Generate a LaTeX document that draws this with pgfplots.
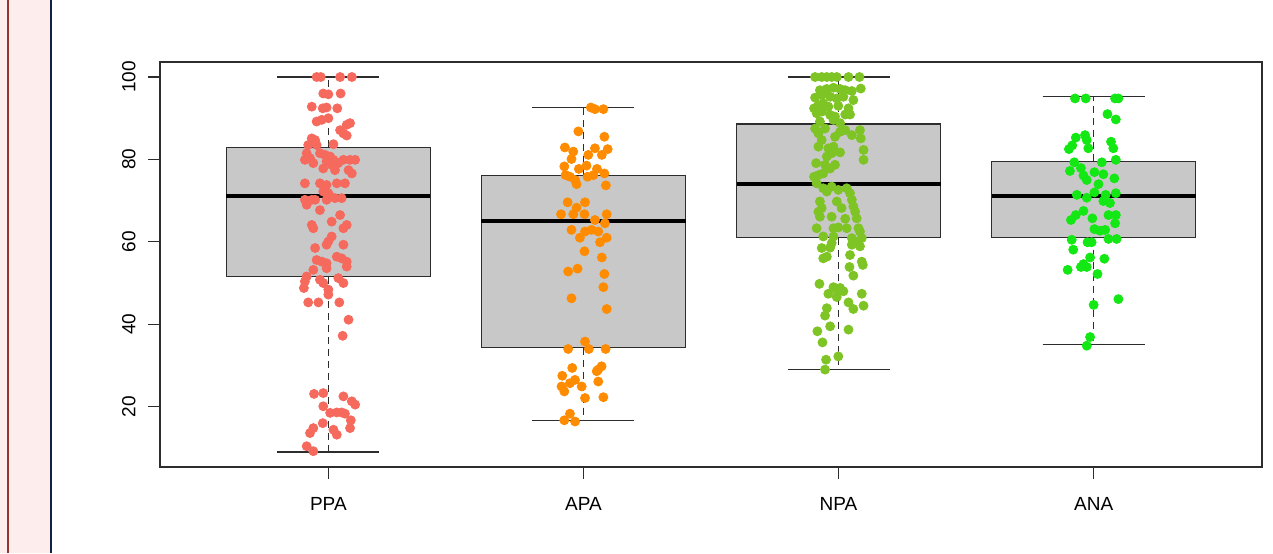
\documentclass[border=0pt]{standalone}
\usepackage{pgfplots}
\pgfplotsset{compat=1.18}
\usepackage{fontspec}
\setmainfont{Liberation Sans}
\definecolor{ppa}{RGB}{246,106,94}
\definecolor{apa}{RGB}{255,140,0}
\definecolor{npa}{RGB}{126,196,36}
\definecolor{ana}{RGB}{20,232,20}
\definecolor{boxgray}{RGB}{200,200,200}
\definecolor{linegray}{RGB}{45,45,45}
\definecolor{panelpink}{RGB}{253,237,237}
\definecolor{panelred}{RGB}{150,50,50}
\definecolor{panelnavy}{RGB}{20,32,64}
\pgfplotsset{
  boxst/.style={draw=linegray, fill=boxgray, line width=0.55pt},
  medst/.style={draw=black, line width=2pt},
  whisk/.style={draw=linegray, line width=0.55pt, dash pattern=on 3.5pt off 2.5pt},
  capst/.style={draw=linegray, line width=0.55pt},
  dots/.style={only marks, mark=*, mark size=2.25pt, color=#1, mark options={draw=#1, fill=#1, solid}},
}
\begin{document}
\begin{tikzpicture}
\path[use as bounding box] (0pt,0pt) rectangle (636.5pt,276.5pt);
\fill[white] (0pt,0pt) rectangle (636.5pt,276.5pt);
\fill[panelpink] (0pt,0pt) rectangle (25.5pt,276.5pt);
\fill[panelred] (3.4pt,0pt) rectangle (4.6pt,276.5pt);
\fill[panelnavy] (24.8pt,0pt) rectangle (26.2pt,276.5pt);
\begin{axis}[
  at={(80pt,43pt)}, anchor=south west,
  width=551pt, height=202.5pt, scale only axis,
  xmin=0.34, xmax=4.66, ymin=5.36, ymax=103.64,
  xtick={1,2,3,4}, xticklabels={PPA,APA,NPA,ANA},
  ytick={20,40,60,80,100},
  tick pos=left, tick align=outside,
  major tick length=6pt,
  tick style={linegray, line width=0.55pt},
  axis line style={linegray, line width=0.6pt},
  tick label style={font=\fontsize{9.5}{11}\selectfont},
  /pgf/number format/assume math mode=true,
  yticklabel style={rotate=90, anchor=south, inner sep=6pt},
  xticklabel style={anchor=north, yshift=-5.5pt},
  clip=false,
]
% PPA box
\addplot[boxst] coordinates {(0.6,51.5)(1.4,51.5)(1.4,83.0)(0.6,83.0)} -- cycle;
\addplot[whisk] coordinates {(1,83.0)(1,100)};
\addplot[whisk] coordinates {(1,51.5)(1,9)};
\addplot[capst] coordinates {(0.8,100)(1.2,100)};
\addplot[capst] coordinates {(0.8,9)(1.2,9)};
\addplot[medst] coordinates {(0.6,71.2)(1.4,71.2)};
% APA box
\addplot[boxst] coordinates {(1.6,34.3)(2.4,34.3)(2.4,76.2)(1.6,76.2)} -- cycle;
\addplot[whisk] coordinates {(2,76.2)(2,92.7)};
\addplot[whisk] coordinates {(2,34.3)(2,16.6)};
\addplot[capst] coordinates {(1.8,92.7)(2.2,92.7)};
\addplot[capst] coordinates {(1.8,16.6)(2.2,16.6)};
\addplot[medst] coordinates {(1.6,65.1)(2.4,65.1)};
% NPA box
\addplot[boxst] coordinates {(2.6,61.0)(3.4,61.0)(3.4,88.6)(2.6,88.6)} -- cycle;
\addplot[whisk] coordinates {(3,88.6)(3,100)};
\addplot[whisk] coordinates {(3,61.0)(3,29.0)};
\addplot[capst] coordinates {(2.8,100)(3.2,100)};
\addplot[capst] coordinates {(2.8,29.0)(3.2,29.0)};
\addplot[medst] coordinates {(2.6,74.1)(3.4,74.1)};
% ANA box
\addplot[boxst] coordinates {(3.6,61.0)(4.4,61.0)(4.4,79.6)(3.6,79.6)} -- cycle;
\addplot[whisk] coordinates {(4,79.6)(4,95.2)};
\addplot[whisk] coordinates {(4,61.0)(4,35.0)};
\addplot[capst] coordinates {(3.8,95.2)(4.2,95.2)};
\addplot[capst] coordinates {(3.8,35.0)(4.2,35.0)};
\addplot[medst] coordinates {(3.6,71.2)(4.4,71.2)};

\addplot[dots=ppa] coordinates {
(0.954,100)(0.970,100)(1.046,100)(1.092,100)
(0.980,96.0)(1.000,95.8)(1.048,96.0)
(0.935,92.8)(0.978,92.4)(0.993,92.6)(1.035,92.4)
(0.954,89.2)(0.974,89.6)(1.000,90.0)(1.072,88.4)(1.085,88.8)
(1.046,87.1)(1.059,86.3)(1.072,85.8)(0.935,85.1)(0.948,84.7)
(0.921,83.5)(0.954,83.5)(1.020,83.7)
(0.915,81.5)(0.928,80.3)(0.908,79.9)(0.941,79.1)(0.967,81.5)(0.987,81.1)(1.007,80.7)(0.993,79.5)(1.013,78.7)(1.020,79.9)(1.039,79.1)(1.059,79.9)(1.085,79.9)(1.105,79.9)
(0.980,77.8)(1.026,77.4)(1.079,77.4)(1.092,76.6)
(0.908,74.2)(0.967,74.2)(0.993,73.8)(1.033,74.2)(1.065,74.2)
(0.980,72.2)(1.000,71.8)(1.007,71.0)(1.026,70.6)(1.052,70.6)(0.993,70.2)(0.908,70.2)(0.935,70.2)(0.948,70.2)(0.915,69.0)
(0.967,67.7)(1.046,66.5)(0.935,64.1)(0.941,63.3)(1.013,64.9)(1.059,63.3)(1.072,64.1)
(1.013,61.3)(1.000,60.1)(0.993,59.3)(1.059,59.3)(0.948,58.5)
(0.954,55.6)(0.974,55.2)(1.033,56.4)(1.052,56.0)(1.072,55.2)(0.993,54.8)
(1.072,54.0)(0.941,53.2)(0.993,53.6)
(0.915,51.6)(0.908,50.4)(0.904,48.8)(0.967,50.8)(0.980,50.0)(1.039,51.2)(1.059,50.0)(1.000,48.4)
(1.000,47.2)(0.921,45.3)(0.961,45.3)(1.043,45.3)(1.079,41.1)(1.056,37.2)
(0.944,23.1)(0.980,23.3)(1.059,22.5)(1.092,21.3)(1.105,20.5)(0.980,20.1)
(1.007,18.5)(1.033,18.6)(1.052,18.6)(1.065,18.3)(1.088,16.7)(0.978,16.0)
(0.941,14.8)(0.928,13.6)(1.020,14.4)(1.033,13.2)(1.085,14.8)(0.915,10.4)(0.941,9.2)
};
\addplot[dots=apa] coordinates {
(2.029,92.6)(2.045,92.2)(2.078,92.2)(1.980,86.8)(2.082,85.5)
(1.927,82.9)(1.960,81.9)(1.953,80.1)(2.019,81.1)(2.045,82.7)(2.095,82.5)(2.072,81.1)
(1.925,78.3)(1.982,77.7)(2.012,78.5)(2.053,77.7)(2.082,76.6)(1.930,76.2)(1.947,75.8)(1.967,75.0)(1.973,74.0)(2.016,75.8)(2.039,76.2)(2.088,73.7)
(1.938,69.6)(1.973,68.3)(2.006,69.6)(1.912,66.7)(1.960,66.7)(2.004,66.7)(2.091,66.7)(2.045,65.3)(2.084,64.5)
(1.953,62.9)(1.986,61.0)(2.006,62.5)(2.032,62.9)(2.058,62.5)(2.091,61.0)(2.065,59.9)(2.004,57.7)(2.072,56.2)
(1.940,52.8)(1.977,53.5)(2.082,52.2)
(2.078,49.0)(1.953,46.3)(2.091,43.7)(2.006,35.8)(1.940,34.0)(2.021,34.0)(2.087,34.0)
(1.956,29.4)(1.917,27.5)(2.071,29.8)(2.058,29.0)(2.052,28.6)(1.967,26.5)(1.947,25.7)(1.914,24.9)(1.925,23.7)(1.993,24.9)(2.058,26.1)(2.006,22.1)(2.078,22.3)
(1.947,18.3)(1.925,16.7)(1.967,16.4)
};
\addplot[dots=npa] coordinates {
(2.908,100)(2.934,100)(2.954,100)(2.973,100)(2.993,100)(3.039,100)(3.082,100)
(2.927,96.8)(2.954,97.1)(2.980,97.4)(3.006,97.1)(3.026,96.8)(3.052,96.6)(3.087,97.2)
(2.908,95.0)(2.934,95.6)(2.967,95.2)(2.993,94.8)(3.019,95.2)(3.058,94.4)
(2.904,92.4)(2.921,93.2)(2.940,93.6)(2.960,92.8)(2.999,93.0)(3.039,92.4)
(2.914,91.2)(2.934,91.6)(2.967,90.8)(2.986,90.4)(3.026,90.9)(3.045,90.9)
(2.927,89.2)(2.980,89.6)(3.006,88.8)(2.947,87.5)
(2.908,87.5)(2.921,86.3)(2.934,84.7)(2.986,85.5)(3.006,86.7)(3.026,87.1)(3.052,85.9)(3.084,87.1)(3.087,85.1)
(2.921,83.1)(2.960,82.7)(2.980,83.1)(3.006,81.7)(2.973,81.5)(2.954,80.7)(3.098,82.3)(3.098,79.9)
(2.912,79.1)(2.947,78.7)(2.967,77.8)(2.986,78.7)(2.940,76.6)(2.921,76.2)(2.904,75.8)
(2.914,74.2)(2.940,73.0)(2.954,72.2)(2.973,73.4)(2.999,72.6)(3.032,73.0)(3.045,71.8)
(2.927,69.8)(2.934,68.2)(2.921,67.3)(2.993,69.8)(3.012,68.2)(3.052,70.2)(3.058,68.6)(3.065,67.3)
(2.973,66.1)(3.026,65.6)(3.071,65.7)(2.927,66.1)
(2.914,63.3)(2.980,63.3)(2.999,63.5)(3.032,63.3)(3.078,63.3)(3.084,62.5)
(2.940,61.3)(2.980,61.3)(3.052,60.9)(3.091,60.9)(3.065,60.1)(2.973,59.7)
(2.934,58.5)(2.967,58.6)(3.052,59.3)(3.084,58.9)(2.940,56.0)(2.954,56.4)(3.045,56.8)(3.091,55.2)
(3.043,53.9)(3.058,51.8)(3.095,54.4)(2.925,49.8)(2.980,49.0)(2.993,48.5)(3.006,48.8)(3.019,48.0)
(2.960,47.4)(2.993,46.6)(3.091,47.4)(3.098,44.5)(3.039,45.3)(3.058,43.7)(2.954,43.9)(2.947,42.1)
(2.967,39.5)(2.917,38.3)(3.039,38.7)(2.937,35.6)(2.999,32.2)(2.951,31.4)(2.947,29.0)
};
\addplot[dots=ana] coordinates {
(3.927,94.8)(3.969,94.8)(4.084,94.8)(4.097,94.8)(4.054,91.0)(4.087,89.7)
(3.930,85.3)(3.966,85.9)(3.973,84.7)(3.903,82.5)(3.916,83.4)(3.979,82.7)(4.068,84.3)(4.077,82.7)
(4.087,79.9)(3.924,79.3)(3.907,77.2)(3.950,77.9)(4.032,79.3)(3.960,76.1)(3.973,75.0)(4.003,76.9)(4.038,76.4)(4.019,74.0)(4.081,75.4)
(3.934,71.4)(3.973,70.7)(4.003,72.0)(4.047,71.4)(4.087,71.8)(4.038,69.9)(4.064,69.4)
(3.960,67.5)(3.930,66.5)(3.911,65.3)(3.995,65.7)(4.058,66.5)(4.087,66.5)(4.084,64.5)
(4.003,63.1)(4.025,62.7)(4.045,62.9)(4.058,60.7)(4.090,60.7)(3.914,60.5)(3.976,59.9)(3.992,59.9)
(3.920,58.1)(3.986,56.2)(4.042,55.9)(3.960,54.6)
(3.898,53.2)(3.950,53.9)(3.973,53.9)(4.015,52.2)(4.097,46.1)(4.000,44.7)(3.986,36.9)(3.973,34.8)
};
\end{axis}
\end{tikzpicture}
\end{document}
